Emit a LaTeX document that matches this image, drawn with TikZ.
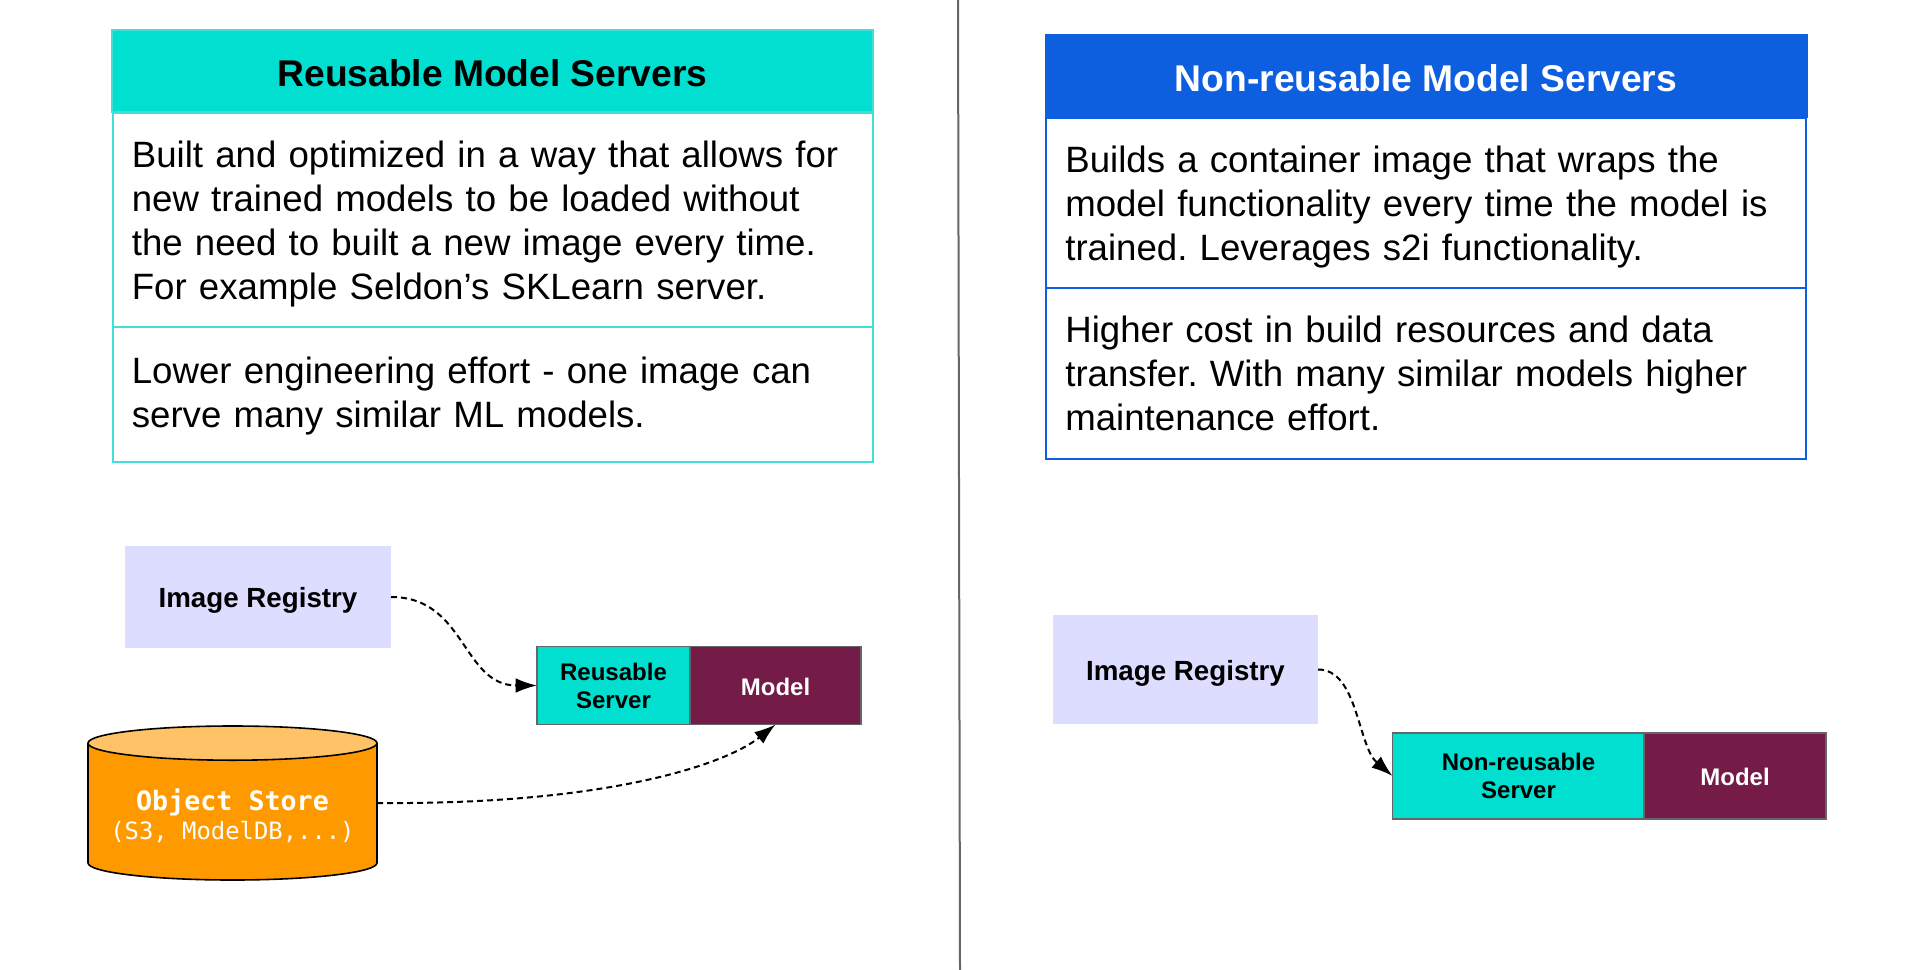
\documentclass[tikz,border=0pt]{standalone}
\usepackage{fontspec}
\setmainfont{Liberation Sans}
\newfontfamily\storefont{DejaVu Sans Mono}
\usetikzlibrary{arrows.meta,shapes.geometric}

\definecolor{tealfill}{HTML}{00DFD0}
\definecolor{tealline}{HTML}{40E0D8}
\definecolor{bluefill}{HTML}{0E5FE0}
\definecolor{registryfill}{HTML}{DDDDFF}
\definecolor{modelfill}{HTML}{741B47}
\definecolor{storefill}{HTML}{FF9900}
\definecolor{storetop}{HTML}{FFC266}
\definecolor{boxline}{HTML}{666666}

\begin{document}
\frenchspacing
\begin{tikzpicture}[x=0.75pt,y=-0.75pt,
  bodybox/.style={draw,line width=1.5pt,outer sep=0pt,inner xsep=14.5pt,inner ysep=0pt,
    text width=541pt,align=left,font=\fontsize{27.47}{33}\selectfont},
  headbox/.style={draw,line width=1.5pt,outer sep=0pt,inner sep=0pt,minimum width=570.75pt,
    minimum height=61.5pt,text height=22.2pt,text depth=0.4pt,font=\fontsize{27.9}{33}\bfseries\selectfont},
  registry/.style={fill=registryfill,outer sep=0pt,inner sep=0pt,text height=16pt,text depth=0pt,
    font=\fontsize{20.8}{25}\bfseries\selectfont},
  serverbox/.style={draw=boxline,line width=1.2pt,outer sep=0pt,inner sep=0pt,align=center,
    text depth=-2.8pt,font=\fontsize{18}{21}\bfseries\selectfont},
  modelbox/.style={serverbox,fill=modelfill,text=white,text height=14.9pt,text depth=0pt},
  flow/.style={dash pattern=on 4.5pt off 3pt,line width=1.5pt,-{Latex[length=16pt,width=11pt]}}]
  \useasboundingbox (0,0) rectangle (1908,970);

  \draw[boxline,line width=1.5pt] (958,0) -- (960,970);

  % left side
  \node[headbox,draw=tealline,fill=tealfill] (reusehead) at (492.5,71.5) {Reusable Model Servers};
  \node[bodybox,draw=tealline,minimum height=160.5pt,text depth=99.4pt] (reusetext) at (492.5,220)
    {Built and optimized in a way that allows for\\new trained models to be loaded without\\the need to built a new image every time.\\For example Seldon’s SKLearn server.};
  \node[bodybox,draw=tealline,minimum height=101pt,text depth=37pt] (reusecost) at (492.5,394.5)
    {Lower engineering effort - one image can\\serve many similar ML models.};

  \node[registry,minimum width=199.5pt,minimum height=76.5pt] (reg) at (258,597) {Image Registry};
  \node[serverbox,fill=tealfill,text=black,minimum width=114.75pt,minimum height=58.5pt] (server) at (613.5,685.5) {Reusable\\Server};
  \node[modelbox,minimum width=128.25pt,minimum height=58.5pt] (model) at (775.5,685.5) {Model};
  \node[cylinder,draw=black,line width=1.2pt,shape border rotate=90,aspect=0.14,cylinder uses custom fill,
    cylinder body fill=storefill,cylinder end fill=storetop,minimum width=216.75pt,minimum height=115.5pt,
    inner sep=0pt,outer sep=0pt,text=white,align=center,anchor=shape center,text height=41.8pt,text depth=0pt,font=\fontsize{17.9}{22}\storefont\selectfont] (store) at (232.5,803)
    {\fontsize{20}{22}\selectfont\textbf{Object Store}\\(S3, ModelDB,...)};
  \coordinate (storeout) at (store.shape center -| store.east);

  \draw[flow] (reg.east) .. controls +(75,0) and +(-75,0) .. (server.west);
  \draw[flow] (storeout) .. controls +(230,2) and +(-50,40) .. (model.south);

  % right side
  \node[headbox,draw=bluefill,fill=bluefill,text=white] (buildhead) at (1426,76.5) {Non-reusable Model Servers};
  \node[bodybox,draw=bluefill,minimum height=127.5pt,text depth=66.4pt] (buildtext) at (1426,203)
    {Builds a container image that wraps the\\model functionality every time the model is\\trained. Leverages s2i functionality.};
  \node[bodybox,draw=bluefill,minimum height=128.25pt] (buildcost) at (1426,373.5)
    {Higher cost in build resources and data\\transfer. With many similar models higher\\maintenance effort.};

  \node[registry,minimum width=198.75pt,minimum height=81.75pt] (reg2) at (1185.5,669.5) {Image Registry};
  \node[serverbox,fill=tealfill,text=black,minimum width=189pt,minimum height=64.5pt] (server2) at (1518.5,776) {Non-reusable\\Server};
  \node[modelbox,minimum width=136.5pt,minimum height=64.5pt] (model2) at (1735,776) {Model};

  \draw[flow] (reg2.east) .. controls +(40,0) and +(-35,-30) .. (server2.west);
\end{tikzpicture}
\end{document}
